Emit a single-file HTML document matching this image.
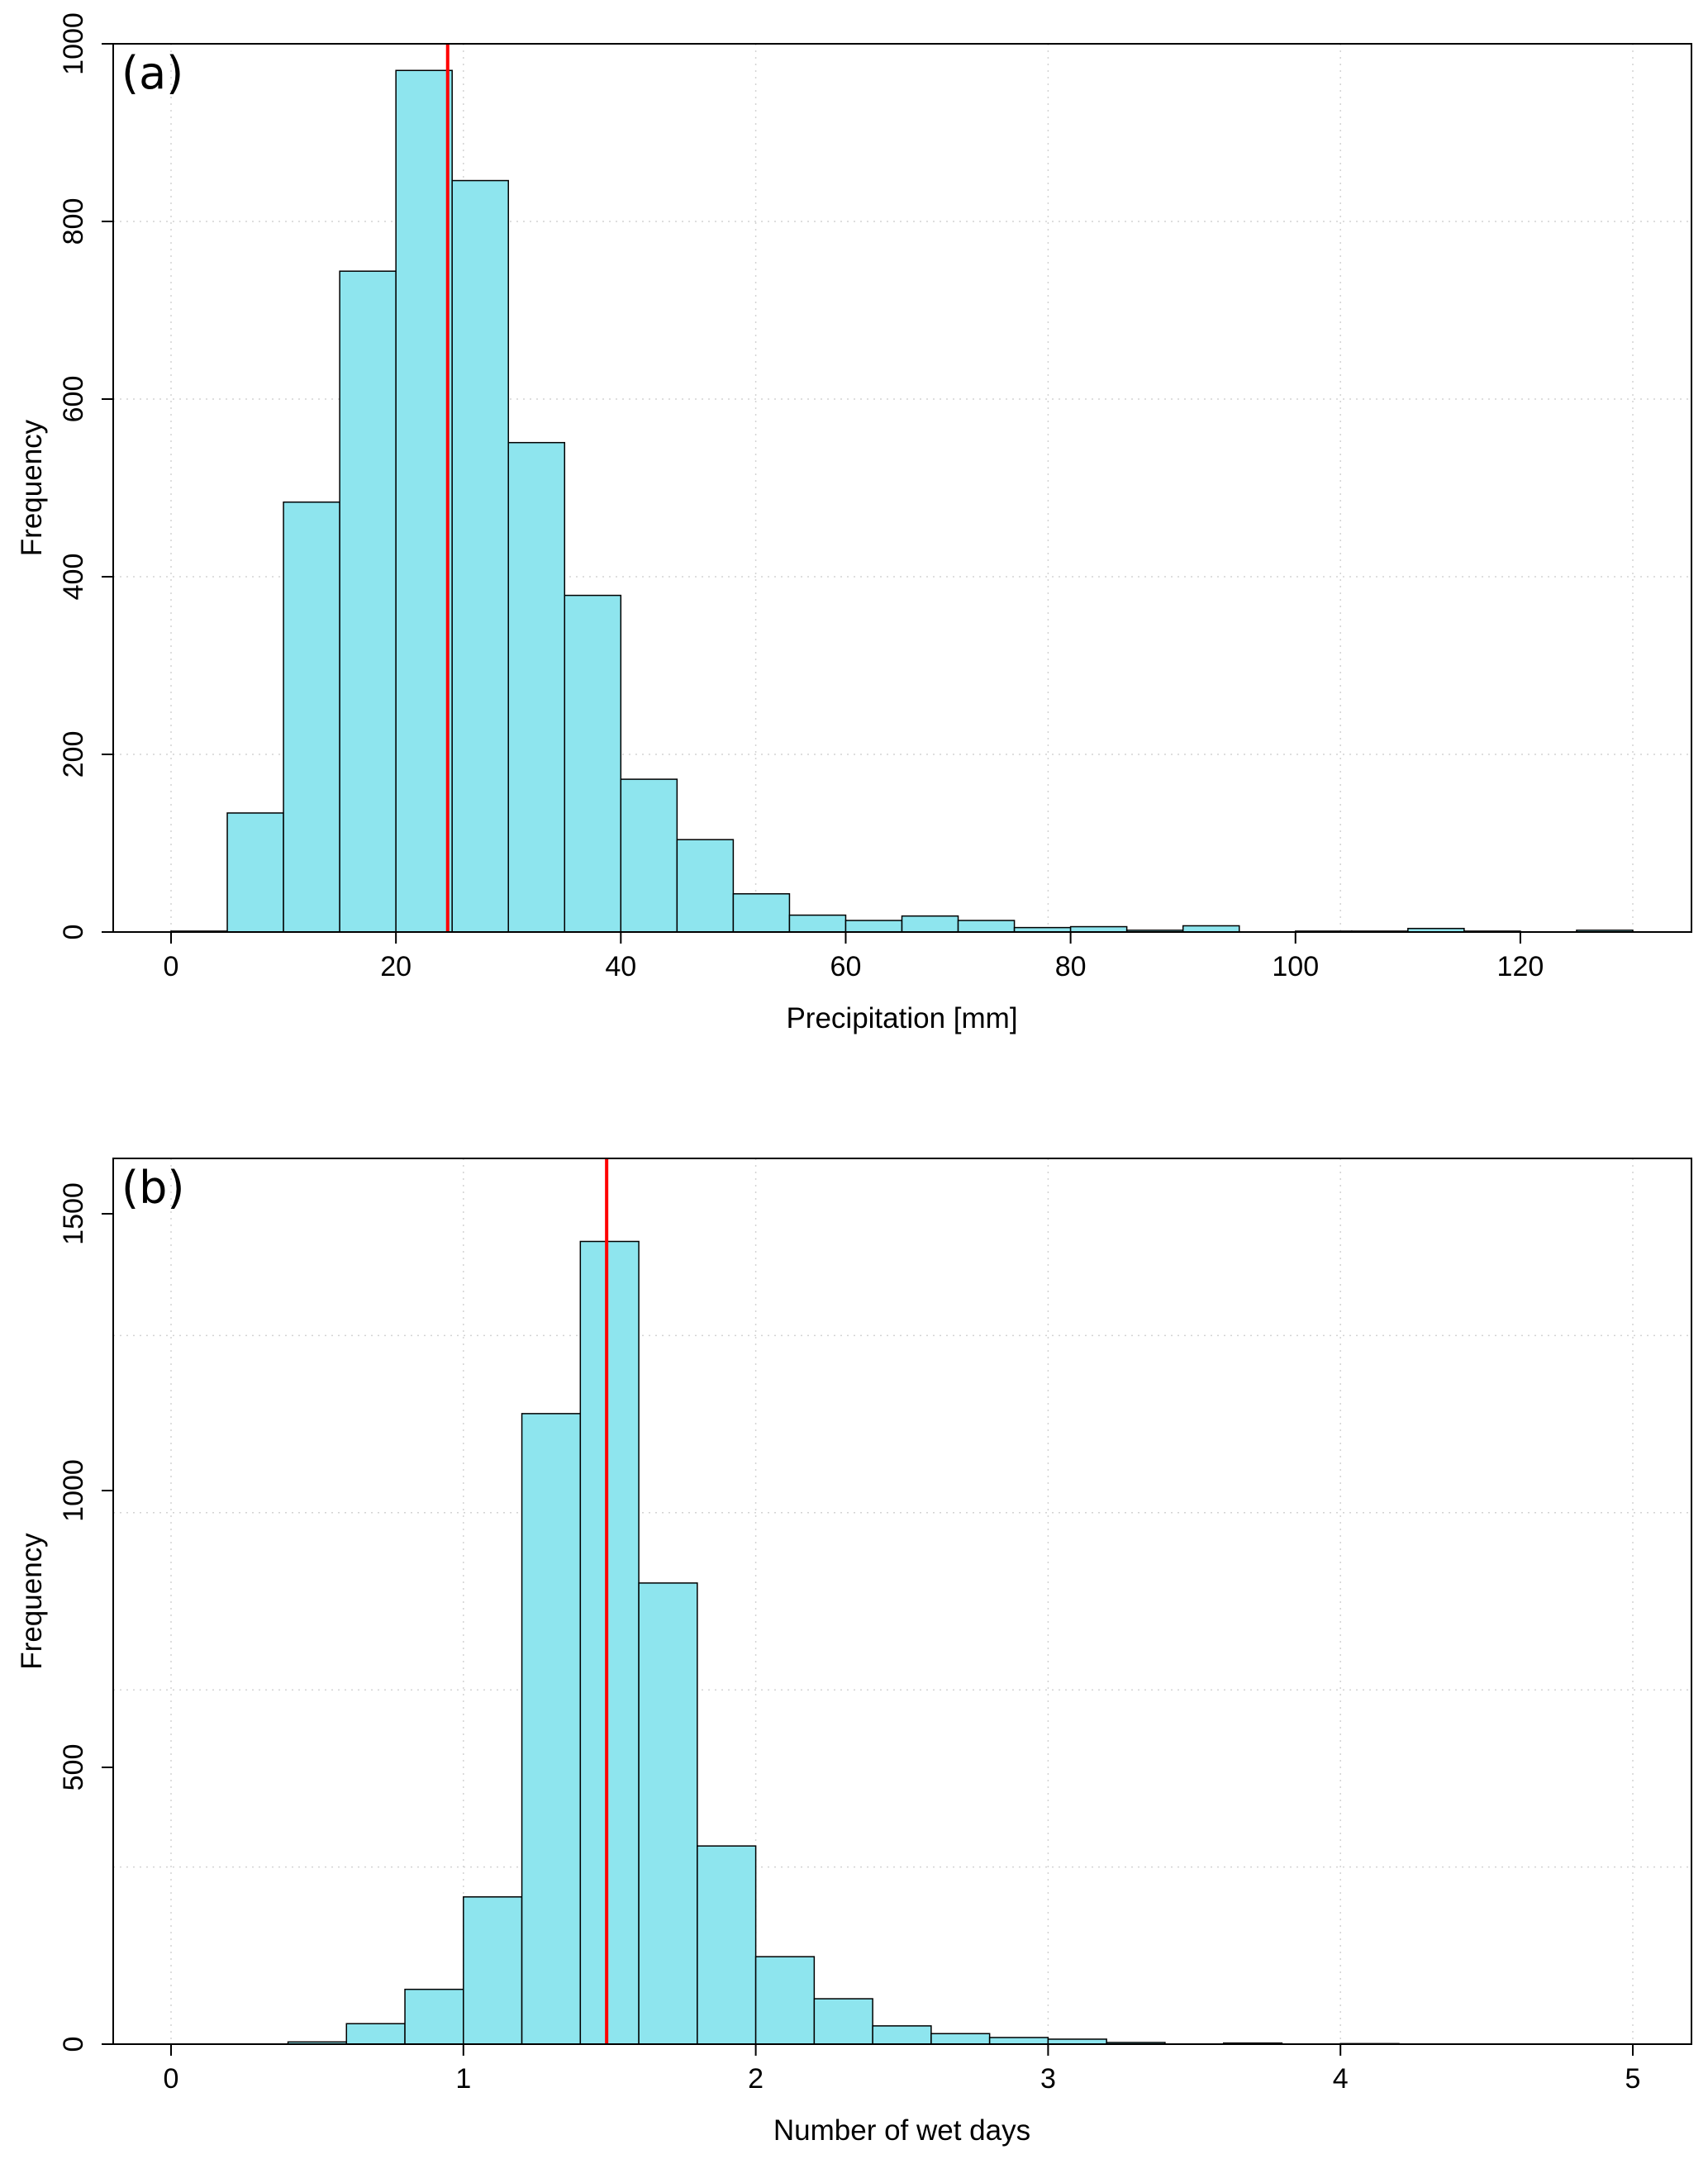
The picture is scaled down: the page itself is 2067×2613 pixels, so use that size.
<!DOCTYPE html>
<html><head><meta charset="utf-8"><style>
html,body{margin:0;padding:0;background:#fff}
svg{display:block}
text{font-family:"Liberation Sans",Arial,sans-serif;fill:#000}
</style></head><body>
<svg id="fig" width="2067" height="2613" viewBox="0 0 2067 2613" xmlns="http://www.w3.org/2000/svg"></svg>
<script>
// Panel (a) data
const aBreaks = [0,5,10,15,20,25,30,35,40,45,50,55,60,65,70,75,80,85,90,95,100,105,110,115,120,125,130];
const aCounts = [1,134,484,744,970,846,551,379,172,104,43,19,13,18,13,5,6,2,7,0,1,1,4,1,0,2];
const aXTicks = [0,20,40,60,80,100,120];
const aYTicks = [0,200,400,600,800,1000];
const aMean = [24.6];
// Panel (b) data
const bBreaks = [0,0.2,0.4,0.6,0.8,1.0,1.2,1.4,1.6,1.8,2.0,2.2,2.4,2.6,2.8,3.0,3.2,3.4,3.6,3.8,4.0,4.2];
const bCounts = [0,0,4,37,99,266,1139,1450,833,358,158,82,33,19,12,9,3,0,2,0,1];
const bXTicks = [0,1,2,3,4,5];
const bYTicks = [0,500,1000,1500];
const bMean = [1.49];

const NS="http://www.w3.org/2000/svg";
const svg=document.getElementById('fig');
function mk(tag,attrs,parent){const e=document.createElementNS(NS,tag);for(const k in attrs)e.setAttribute(k,attrs[k]);(parent||svg).appendChild(e);return e;}

function panel(o){
  const g=mk('g',{});
  
  
  const L=137,R=2047,T=o.top,B=o.bottom;
  const x=v=>207+(v-o.x0)/(o.x1-o.x0)*1769;
  const y=v=>B-v/o.ymax*(B-T);
  for(let i=0;i<=5;i++){
    const gx=x(o.x0+(o.x1-o.x0)*i/5);
    const l=mk('line',{x1:gx,x2:gx,y1:T,y2:B,stroke:'#d3d3d3','stroke-width':1.5,'stroke-dasharray':'2 6'},g);
    
    
    const gy=y(o.ymax*i/5);
    const h=mk('line',{x1:L,x2:R,y1:gy,y2:gy,stroke:'#d3d3d3','stroke-width':1.5,'stroke-dasharray':'2 6'},g);
    
    
  }
  o.counts.forEach((c,i)=>{
    const x0=x(o.breaks[i]),x1=x(o.breaks[i+1]);
    const r=mk('rect',{x:x0,y:y(c),width:x1-x0,height:B-y(c),fill:'#8EE5EE',stroke:'#000','stroke-width':1.5},g);
    
    
  });
  const mx=x(o.mean[0]);
  const ml=mk('line',{x1:mx,x2:mx,y1:T,y2:B,stroke:'#ff0000','stroke-width':4},g);
  
  
  const bx=mk('rect',{x:L,y:T,width:R-L,height:B-T,fill:'none',stroke:'#000','stroke-width':2},g);
  
  
  o.xticks.forEach(v=>{
    const tx=x(v);
    const t=mk('line',{x1:tx,x2:tx,y1:B,y2:B+14,stroke:'#000','stroke-width':2},g);
    
    
    const lb=mk('text',{x:tx,y:B+53,'font-size':34,'text-anchor':'middle'},g);
    lb.textContent=v;
    
    
  });
  o.yticks.forEach(v=>{
    const ty=y(v);
    const t=mk('line',{x1:L-14,x2:L,y1:ty,y2:ty,stroke:'#000','stroke-width':2},g);
    
    
    const lb=mk('text',{x:0,y:0,'font-size':34,'text-anchor':'middle',transform:`translate(100,${ty}) rotate(-90)`},g);
    lb.textContent=v;
    
    
  });
  const xt=mk('text',{x:(207+1976)/2,y:B+116,'font-size':35,'text-anchor':'middle'},g);
  xt.textContent=o.xlab;
  
  
  const yt=mk('text',{x:0,y:0,'font-size':35,'text-anchor':'middle',transform:`translate(50,${(T+B)/2}) rotate(-90)`},g);
  yt.textContent='Frequency';
  
  
  const pl=mk('text',{x:147,y:T+54,'font-size':54,style:'font-family:"DejaVu Sans",sans-serif'},g);
  pl.textContent=o.label;
  
  
}
panel({name:'panel-a-precipitation',top:53,bottom:1128,x0:0,x1:130,ymax:1000,breaks:aBreaks,counts:aCounts,xticks:aXTicks,yticks:aYTicks,mean:aMean,xlab:'Precipitation [mm]',label:'(a)'});
panel({name:'panel-b-wet-days',top:1402,bottom:2474,x0:0,x1:5,ymax:1600,breaks:bBreaks,counts:bCounts,xticks:bXTicks,yticks:bYTicks,mean:bMean,xlab:'Number of wet days',label:'(b)'});
</script>
</body></html>
